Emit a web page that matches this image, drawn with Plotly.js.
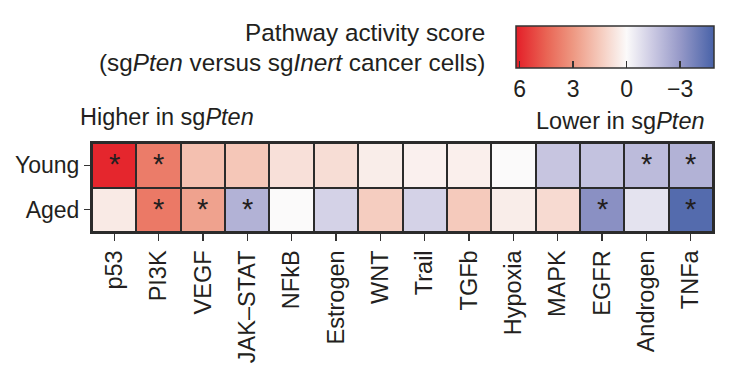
<!DOCTYPE html>
<html>
<head>
<meta charset="utf-8">
<script src="https://cdn.plot.ly/plotly-3.0.1.min.js"></script>
<style>html,body{margin:0;padding:0;background:#fff;}#chart{width:741px;height:369px;}</style>
</head>
<body>
<div id="chart"></div>
<script>
// Pathways (columns) and groups (rows)
const pathways = ["p53","PI3K","VEGF","JAK\u2013STAT","NFkB","Estrogen","WNT","Trail","TGFb","Hypoxia","MAPK","EGFR","Androgen","TNFa"];
const groups = ["Young","Aged"];
// Pathway activity score (sgPten versus sgInert)
const youngScores = [6.0, 3.8, 1.8, 1.6, 0.8, 0.9, 0.4, 0.3, 0.35, 0.0, -1.6, -1.7, -1.9, -2.2];
const agedScores  = [0.5, 3.9, 2.7, -2.2, 0.0, -1.2, 1.4, -1.2, 1.5, 0.4, 1.0, -3.3, -0.7, -4.6];
// Significance markers
const youngSig = [true, true, false, false, false, false, false, false, false, false, false, false, true, true];
const agedSig  = [false, true, true, true, false, false, false, false, false, false, false, true, false, true];
// Colorbar ticks (scores)
const cbTickScores = [6, 3, 0, -3];
const cbTickText = ["6", "3", "0", "\u22123"];
const scoreMax = 6.2, scoreMin = -4.9;

// Plot -score so the horizontal colorbar reads high (red) on the left
const zRows = [youngScores, agedScores].map(r => r.map(v => -v));
const zmin = -scoreMax, zmax = -scoreMin;
const span = zmax - zmin;
const pos = v => (-v - zmin) / span; // score -> colorscale position
const colorscale = [
  [0, "rgb(228,30,40)"],
  [pos(4.5), "rgb(233,100,84)"],
  [pos(3), "rgb(238,152,130)"],
  [pos(1.5), "rgb(245,202,188)"],
  [pos(0), "rgb(251,250,250)"],
  [pos(-1.5), "rgb(202,200,226)"],
  [pos(-3), "rgb(150,153,200)"],
  [1, "rgb(72,98,168)"]
];

const FONT = "'Liberation Sans', Arial, sans-serif";
const TXT = "#231f20";

const trace = {
  type: "heatmap",
  x: pathways,
  y: groups,
  z: zRows,
  zmin: zmin, zmax: zmax,
  colorscale: colorscale,
  xgap: 2, ygap: 2,
  hoverinfo: "skip",
  colorbar: {
    orientation: "h",
    xref: "paper", yref: "paper",
    x: 0.6828, xanchor: "left",
    y: 2.31, yanchor: "top",
    lenmode: "pixels", len: 198,
    thickness: 42,
    xpad: 0, ypad: 0,
    outlinewidth: 1.5, outlinecolor: "#333",
    tickmode: "array",
    tickvals: cbTickScores.map(v => -v),
    ticktext: cbTickText,
    ticks: "inside", ticklen: 7, tickwidth: 1.3, tickcolor: "#333",
    tickfont: {family: FONT, size: 23, color: TXT}
  }
};

const annotations = [];
[youngSig, agedSig].forEach((row, ri) => {
  row.forEach((s, ci) => {
    if (s) annotations.push({
      x: pathways[ci], y: groups[ri], xref: "x", yref: "y",
      text: "*", showarrow: false, yshift: 1,
      font: {family: FONT, size: 29, color: TXT}
    });
  });
});
annotations.push(
  {xref: "paper", yref: "paper", x: 0.636, y: 2.247, xanchor: "right", yanchor: "middle",
   text: "Pathway activity score", showarrow: false, font: {family: FONT, size: 24.3, color: TXT}},
  {xref: "paper", yref: "paper", x: 0.636, y: 1.91, xanchor: "right", yanchor: "middle",
   text: "(sg<i>Pten</i> versus sg<i>Inert</i> cancer cells)", showarrow: false, font: {family: FONT, size: 24.3, color: TXT}},
  {xref: "paper", yref: "paper", x: -0.0225, y: 1.292, xanchor: "left", yanchor: "middle",
   text: "Higher in sg<i>Pten</i>", showarrow: false, font: {family: FONT, size: 23.5, color: TXT}},
  {xref: "paper", yref: "paper", x: 0.99, y: 1.247, xanchor: "right", yanchor: "middle",
   text: "Lower in sg<i>Pten</i>", showarrow: false, font: {family: FONT, size: 23.5, color: TXT}}
);

const layout = {
  width: 741, height: 369,
  margin: {l: 92, r: 28, t: 143, b: 137},
  paper_bgcolor: "#fff",
  plot_bgcolor: "#2b2b2b",
  showlegend: false,
  xaxis: {
    type: "category", showgrid: false, zeroline: false,
    showline: true, mirror: true, linecolor: "#2b2b2b", linewidth: 2,
    ticks: "outside", ticklen: 7, tickwidth: 1.3, tickcolor: "#333",
    tickangle: -90, ticklabelstandoff: 0,
    tickfont: {family: FONT, size: 23.5, color: TXT}
  },
  yaxis: {
    type: "category", autorange: "reversed", showgrid: false, zeroline: false,
    showline: true, mirror: true, linecolor: "#2b2b2b", linewidth: 2,
    ticks: "outside", ticklen: 6, tickwidth: 1.3, tickcolor: "#333",
    tickfont: {family: FONT, size: 23, color: TXT}
  },
  annotations: annotations
};

Plotly.newPlot("chart", [trace], layout, {displayModeBar: false, staticPlot: true});
</script>
</body>
</html>
